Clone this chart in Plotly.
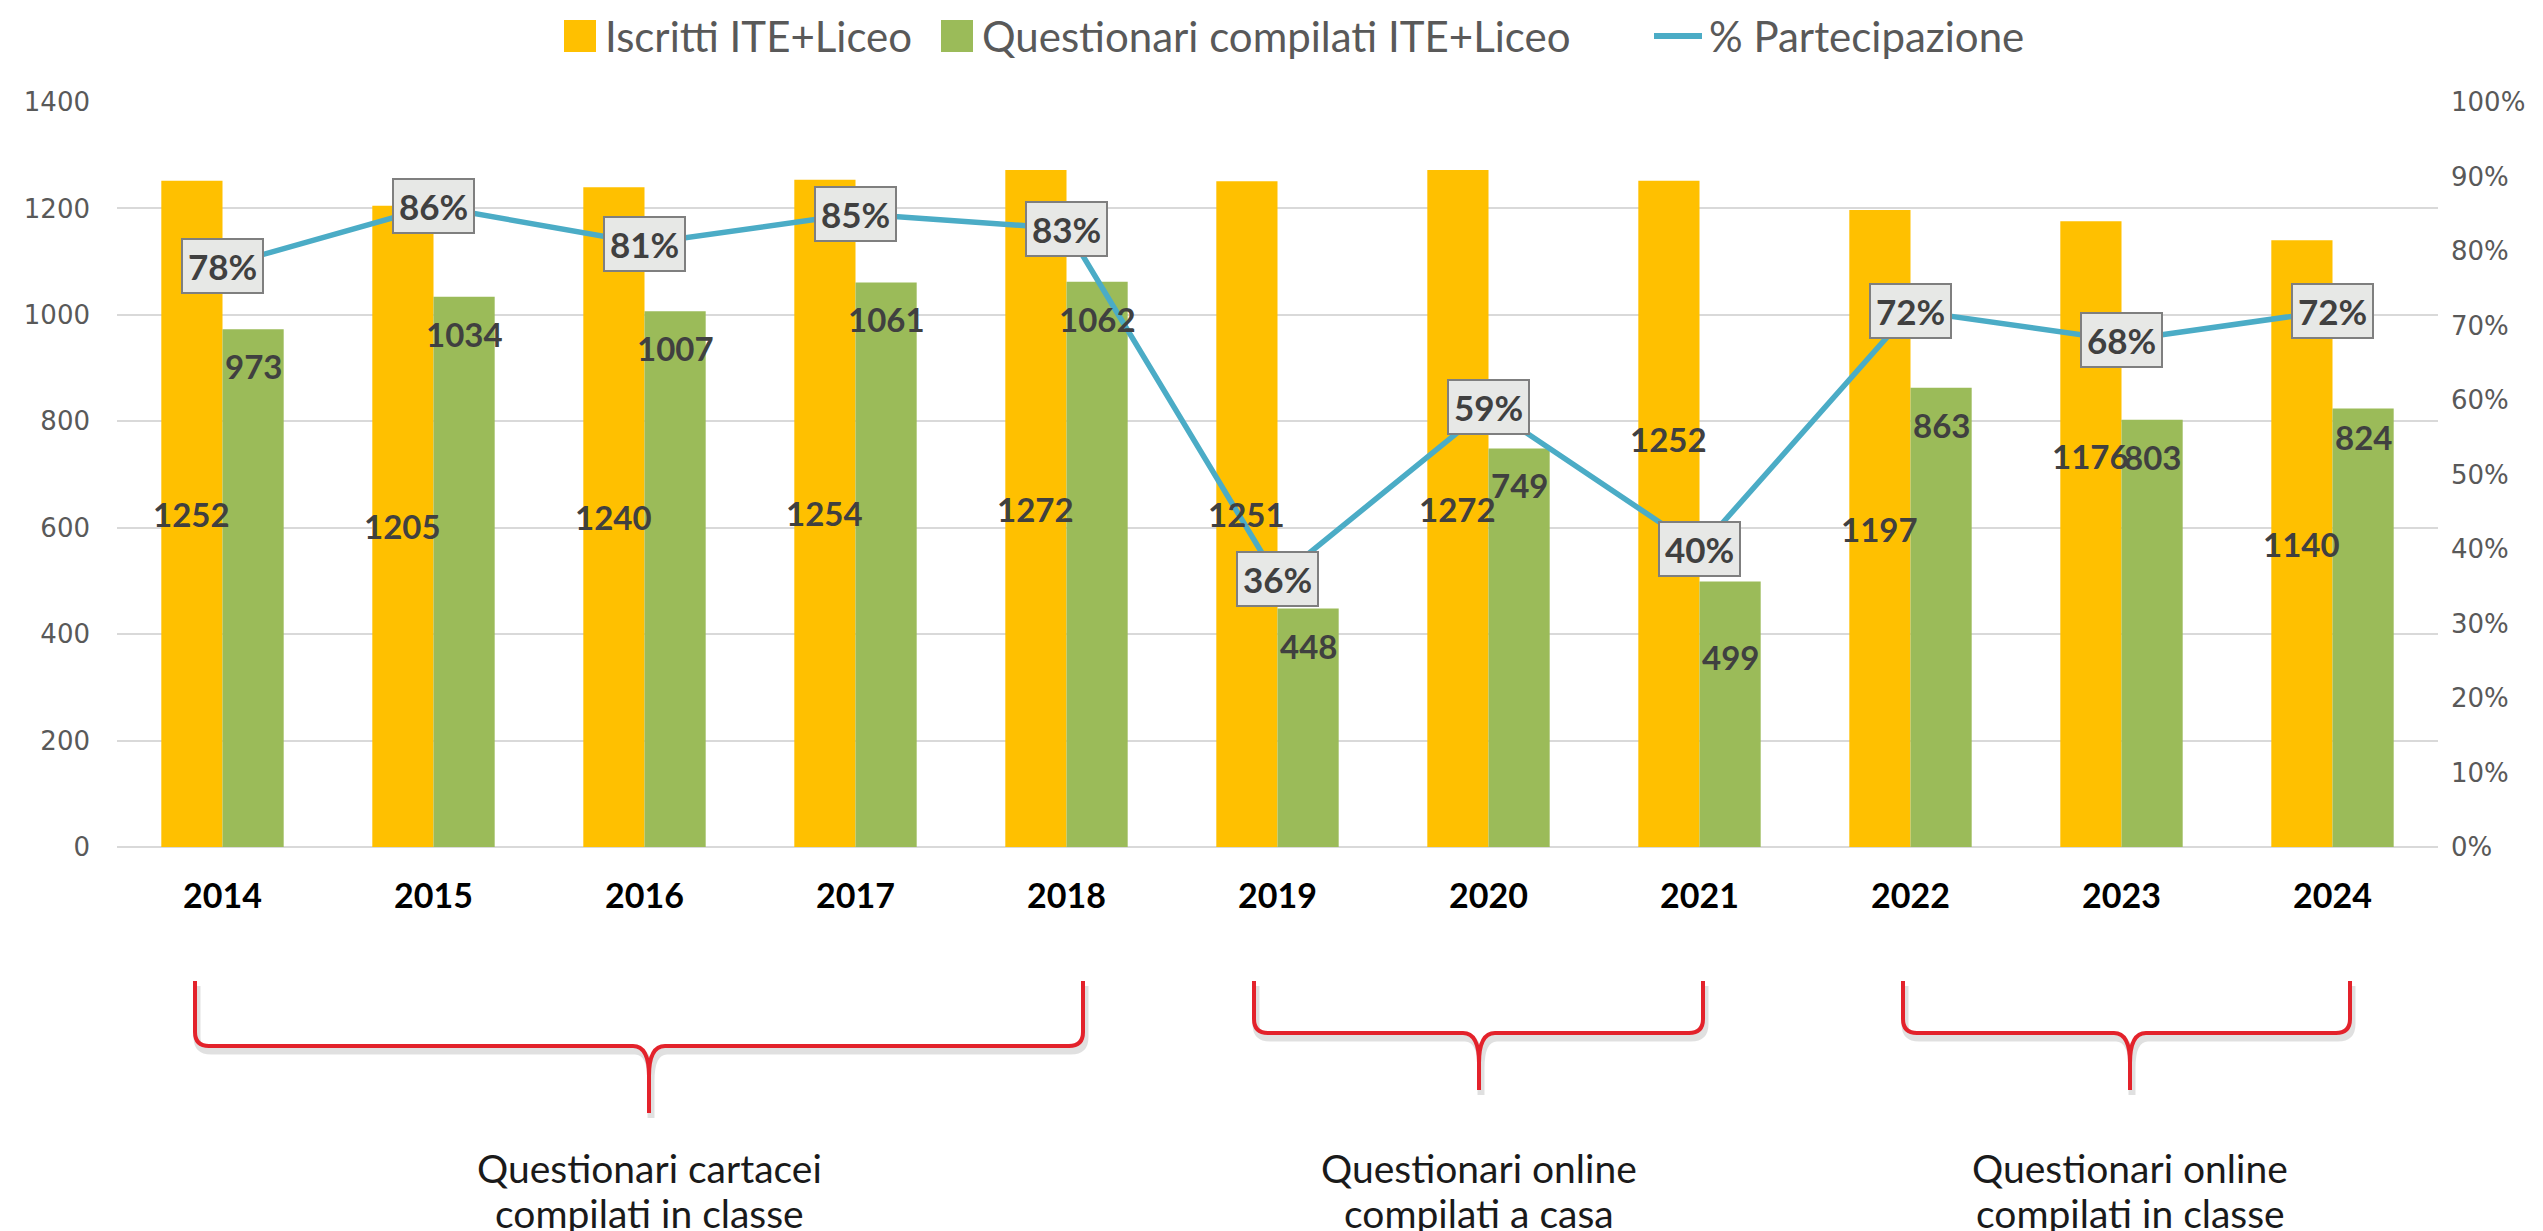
import plotly.graph_objects as go

# ---------------- data ----------------
years = ["2014", "2015", "2016", "2017", "2018", "2019", "2020", "2021", "2022", "2023", "2024"]
iscritti = [1252, 1205, 1240, 1254, 1272, 1251, 1272, 1252, 1197, 1176, 1140]
questionari = [973, 1034, 1007, 1061, 1062, 448, 749, 499, 863, 803, 824]
partecipazione = [0.78, 0.86, 0.81, 0.85, 0.83, 0.36, 0.59, 0.40, 0.72, 0.68, 0.72]

series_names = ["Iscritti ITE+Liceo", "Questionari compilati ITE+Liceo", "% Partecipazione"]

group_labels = [
    ["Questionari cartacei", "compilati in classe"],
    ["Questionari online", "compilati a casa"],
    ["Questionari online", "compilati in classe"],
]

# ---------------- style / layout constants ----------------
# the page body has an 8px margin: the figure is drawn at (8, 8) in the window
O = 8
W, H = 2543 - O, 1231 - O
# plot area in window pixels
WL, WR, WT, WB = 117, 2438, 102, 847
L, R, T, B = WL - O, WR - O, WT - O, WB - O
YELLOW = "#FFC000"
GREEN = "#9BBB59"
TEAL = "#4BACC6"
LABEL = "#404040"
TICK = "#595959"
GRID = "#D9D9D9"
BRACE = "#E3222B"
FONT = "Lato, Open Sans, sans-serif"
TICKFONT = "DejaVu Sans, Verdana, sans-serif"
BARGAP = 0.42

# manual label nudges (positions, in value units / pixels)
yellow_label_override = {"2021": 766, "2023": 735}
green_label_shift = {"2021": -76, "2024": -28}
GREEN_DEFAULT_SHIFT = -37

# brace geometry in window pixels: (left, right, top, horizontal, tip_y, centre)
braces = [
    (195, 1083, 981, 1046, 1113, 649),
    (1254, 1703, 981, 1033, 1090, 1479),
    (1903, 2350, 981, 1033, 1090, 2130),
]
text_lines_y = [1168, 1213]

# custom legend geometry (window pixels): (symbol_left, text_left)
legend_items = [(564, 603), (941, 980), (1654, 1707)]
LEGEND_Y = 36


def px(x):
    return (x - WL) / (WR - WL)


def py(y):
    return (WB - y) / (WB - WT)


fig = go.Figure()
fig.add_trace(go.Bar(x=years, y=iscritti, name=series_names[0], showlegend=False,
                     marker=dict(color=YELLOW, line=dict(width=0))))
fig.add_trace(go.Bar(x=years, y=questionari, name=series_names[1], showlegend=False,
                     marker=dict(color=GREEN, line=dict(width=0))))
fig.add_trace(go.Scatter(x=years, y=partecipazione, name=series_names[2], yaxis="y2",
                         showlegend=False, mode="lines", line=dict(color=TEAL, width=5.5)))

annotations = []
shapes = []
cat_w = (R - L) / len(years)
off = (1 - BARGAP) / 4 * cat_w

for i, (yr, v) in enumerate(zip(years, iscritti)):
    yv = yellow_label_override.get(yr, v / 2)
    annotations.append(dict(x=i, y=yv, xref="x", yref="y", xshift=-off, text=f"<b>{v}</b>",
                            showarrow=False, font=dict(family=FONT, size=33, color=LABEL)))
for i, (yr, v) in enumerate(zip(years, questionari)):
    annotations.append(dict(x=i, y=v, xref="x", yref="y", xshift=off,
                            yshift=green_label_shift.get(yr, GREEN_DEFAULT_SHIFT),
                            text=f"<b>{v}</b>", showarrow=False,
                            font=dict(family=FONT, size=33, color=LABEL)))
for i, p in enumerate(partecipazione):
    annotations.append(dict(x=i, y=p, xref="x", yref="y2", text=f"<b>{round(p * 100)}%</b>",
                            showarrow=False, bgcolor="#E7E8E6", bordercolor="#7F7F7F",
                            borderwidth=2, borderpad=5,
                            font=dict(family=FONT, size=35, color=LABEL)))

# ---- custom legend (large symbols as in the original) ----
sym = 32
for (sx, tx), name, kind in zip(legend_items, series_names, ["bar", "bar", "line"]):
    if kind == "bar":
        col = YELLOW if name == series_names[0] else GREEN
        shapes.append(dict(type="rect", xref="paper", yref="paper",
                           x0=px(sx), x1=px(sx + sym), y0=py(LEGEND_Y + sym / 2),
                           y1=py(LEGEND_Y - sym / 2), fillcolor=col, line=dict(width=0)))
    else:
        shapes.append(dict(type="line", xref="paper", yref="paper",
                           x0=px(sx), x1=px(sx + 48), y0=py(LEGEND_Y), y1=py(LEGEND_Y),
                           line=dict(color=TEAL, width=6)))
    annotations.append(dict(x=px(tx), y=py(LEGEND_Y), xref="paper", yref="paper", text=name,
                            showarrow=False, xanchor="left", yanchor="middle",
                            font=dict(family=FONT, size=42, color=TICK)))


def conv(path, dx=0, dy=0):
    toks = path.split()
    out = []
    i = 0
    while i < len(toks):
        t = toks[i]
        if t in ("M", "L", "Q"):
            out.append(t)
            i += 1
            continue
        xv = float(toks[i]) + dx
        yv = float(toks[i + 1]) + dy
        out.append(f"{px(xv):.5f},{py(yv):.5f}")
        i += 2
    return " ".join(out)


for (xl, xr, top, hz, tip, xc), lines in zip(braces, group_labels):
    r = 14
    d = (f"M {xl} {top} L {xl} {hz - r} Q {xl} {hz} {xl + r} {hz} L {xc - 16} {hz} "
         f"Q {xc} {hz} {xc} {hz + 30} L {xc} {tip} M {xc} {hz + 30} Q {xc} {hz} {xc + 16} {hz} "
         f"L {xr - r} {hz} Q {xr} {hz} {xr} {hz - r} L {xr} {top}")
    shapes.append(dict(type="path", xref="paper", yref="paper", path=conv(d, 2, 5),
                       line=dict(color="rgba(0,0,0,0.12)", width=7), layer="below"))
    shapes.append(dict(type="path", xref="paper", yref="paper", path=conv(d),
                       line=dict(color=BRACE, width=4)))
    for line_text, ly in zip(lines, text_lines_y):
        annotations.append(dict(x=px(xc), y=py(ly), xref="paper", yref="paper", text=line_text,
                                showarrow=False, xanchor="center", yanchor="middle",
                                font=dict(family=FONT, size=39, color="#1A1A1A")))

fig.update_layout(
    width=W, height=H,
    margin=dict(l=L, r=W - R, t=T, b=H - B, pad=0, autoexpand=False),
    plot_bgcolor="white", paper_bgcolor="white",
    barmode="group", bargap=BARGAP, bargroupgap=0,
    showlegend=False,
    xaxis=dict(type="category", range=[-0.5, len(years) - 0.5], automargin=False,
               tickfont=dict(family=FONT, size=34, color="#000000"),
               showgrid=False, showline=False, ticks="", ticklabelstandoff=26,
               tickprefix="<b>", ticksuffix="</b>"),
    yaxis=dict(range=[0, 1400], dtick=200, gridcolor=GRID, gridwidth=2, automargin=False,
               zeroline=True, zerolinecolor=GRID, zerolinewidth=2,
               tickfont=dict(family=TICKFONT, size=26, color=TICK), ticklabelstandoff=26,
               showline=False),
    yaxis2=dict(range=[0, 1], dtick=0.1, tickformat=".0%", overlaying="y", side="right",
                showgrid=False, zeroline=False, showline=False, automargin=False,
                tickfont=dict(family=TICKFONT, size=26, color=TICK), ticklabelstandoff=12),
    annotations=annotations,
    shapes=shapes,
)

fig.write_html("out.html")
